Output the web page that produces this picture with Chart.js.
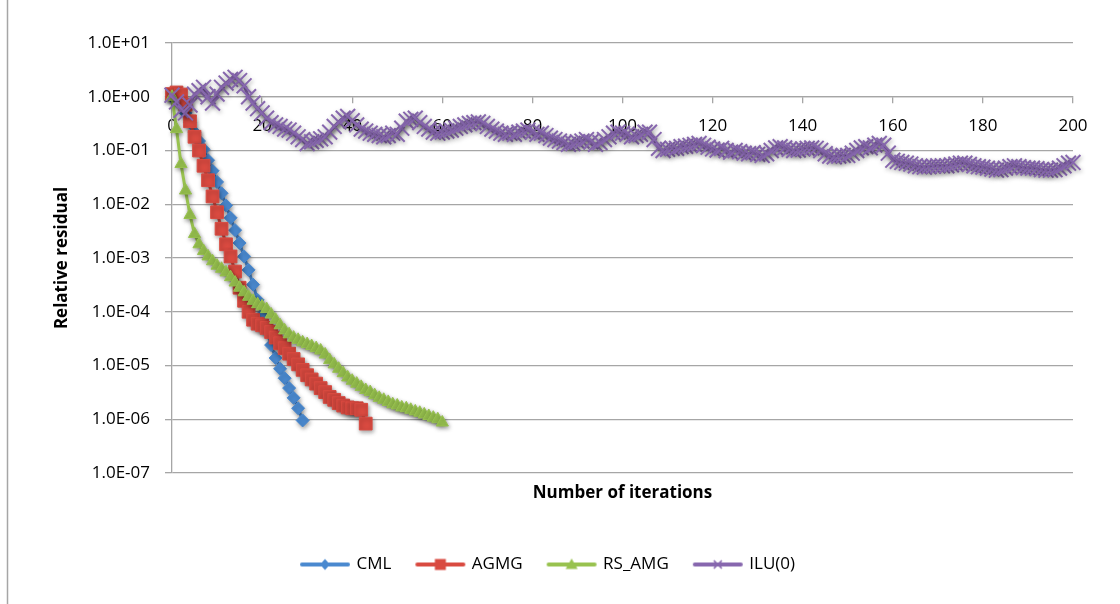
<!DOCTYPE html>
<html>
<head>
<meta charset="utf-8">
<title>Relative residual</title>
<script src="https://cdn.jsdelivr.net/npm/chart.js@4.4.1/dist/chart.umd.min.js"></script>
<style>
  html, body { margin: 0; padding: 0; background: #fff; }
  #wrap { width: 1120px; height: 604px; position: relative; }
</style>
</head>
<body>
<div id="wrap"><canvas id="resChart"></canvas></div>
<script>
// relative residual per iteration, one entry per iteration starting at 0
const CML = [
  1.0, 0.93, 0.76, 0.5, 0.33, 0.22, 0.15, 0.105, 6.6e-2, 4.2e-2,
  2.6e-2, 1.6e-2, 9.5e-3, 5.6e-3, 3.3e-3, 1.9e-3, 1.07e-3, 6.0e-4, 3.2e-4, 1.66e-4,
  8.7e-5, 4.6e-5, 2.4e-5, 1.38e-5, 8.7e-6, 5.8e-6, 3.8e-6, 2.5e-6, 1.6e-6, 9.5e-7
];
const AGMG = [
  1.12, 1.2, 1.1, 0.71, 0.35, 0.18, 0.1, 5.2e-2, 2.8e-2, 1.4e-2,
  7.1e-3, 3.5e-3, 1.8e-3, 1.07e-3, 5.6e-4, 2.8e-4, 1.6e-4, 1.0e-4, 7.1e-5, 6.0e-5,
  5.6e-5, 5.0e-5, 4.2e-5, 3.3e-5, 2.6e-5, 2.1e-5, 1.66e-5, 1.32e-5, 1.05e-5, 8.3e-6,
  6.6e-6, 5.5e-6, 4.6e-6, 3.8e-6, 3.2e-6, 2.6e-6, 2.3e-6, 2.0e-6, 1.8e-6, 1.66e-6,
  1.6e-6, 1.6e-6, 1.5e-6, 8.3e-7
];
const RS_AMG = [
  1.0, 0.25, 5.6e-2, 1.8e-2, 6.3e-3, 2.8e-3, 1.8e-3, 1.35e-3, 1.07e-3, 8.7e-4,
  7.2e-4, 6.3e-4, 5.4e-4, 4.4e-4, 3.5e-4, 2.8e-4, 2.3e-4, 1.9e-4, 1.6e-4, 1.38e-4,
  1.26e-4, 1.12e-4, 8.9e-5, 7.1e-5, 5.6e-5, 4.5e-5, 3.8e-5, 3.3e-5, 3.0e-5, 2.7e-5,
  2.5e-5, 2.3e-5, 2.1e-5, 1.9e-5, 1.6e-5, 1.26e-5, 1.05e-5, 8.7e-6, 7.2e-6, 6.0e-6,
  5.2e-6, 4.6e-6, 4.0e-6, 3.5e-6, 3.2e-6, 2.8e-6, 2.5e-6, 2.3e-6, 2.1e-6, 1.9e-6,
  1.8e-6, 1.66e-6, 1.6e-6, 1.5e-6, 1.4e-6, 1.32e-6, 1.23e-6, 1.15e-6, 1.07e-6, 1.0e-6,
  8.7e-7
];
const ILU0 = [
  1.07, 0.8, 0.56, 0.5, 0.7, 1.12, 1.3, 1.5, 1.0, 0.76,
  1.12, 1.5, 1.8, 2.1, 2.3, 2.0, 1.6, 1.0, 0.76, 0.6,
  0.5, 0.4, 0.33, 0.3, 0.28, 0.25, 0.24, 0.21, 0.18, 0.16,
  0.135, 0.145, 0.155, 0.165, 0.18, 0.22, 0.28, 0.34, 0.4, 0.43,
  0.36, 0.3, 0.25, 0.23, 0.21, 0.2, 0.19, 0.18, 0.19, 0.21,
  0.2, 0.26, 0.35, 0.38, 0.4, 0.33, 0.28, 0.25, 0.22, 0.21,
  0.22, 0.23, 0.24, 0.26, 0.28, 0.3, 0.32, 0.33, 0.34, 0.32,
  0.28, 0.25, 0.23, 0.21, 0.2, 0.21, 0.2, 0.22, 0.23, 0.24,
  0.22, 0.2, 0.21, 0.19, 0.17, 0.16, 0.15, 0.14, 0.13, 0.135,
  0.145, 0.15, 0.16, 0.145, 0.13, 0.14, 0.16, 0.18, 0.21, 0.22,
  0.21, 0.2, 0.18, 0.19, 0.2, 0.22, 0.22, 0.16, 0.11, 0.1,
  0.105, 0.11, 0.11, 0.118, 0.12, 0.125, 0.13, 0.135, 0.125, 0.115,
  0.107, 0.102, 0.11, 0.1, 0.093, 0.1, 0.095, 0.089, 0.087, 0.091,
  0.085, 0.081, 0.087, 0.1, 0.112, 0.118, 0.112, 0.105, 0.1, 0.102,
  0.107, 0.11, 0.112, 0.11, 0.1, 0.087, 0.079, 0.076, 0.079, 0.081,
  0.081, 0.089, 0.1, 0.112, 0.118, 0.112, 0.126, 0.135, 0.126, 0.089,
  0.066, 0.063, 0.06, 0.058, 0.056, 0.052, 0.05, 0.049, 0.05, 0.051,
  0.052, 0.052, 0.052, 0.054, 0.056, 0.058, 0.058, 0.055, 0.052, 0.05,
  0.049, 0.047, 0.045, 0.043, 0.044, 0.047, 0.05, 0.052, 0.05, 0.048,
  0.047, 0.047, 0.046, 0.044, 0.043, 0.043, 0.044, 0.047, 0.052, 0.058,
  0.06
];

const SERIES_NAMES = ['CML', 'AGMG', 'RS_AMG', 'ILU(0)'];
const SERIES_COLORS = ['#4a89cf', '#d94a40', '#98c24f', '#8767ae'];

const X_MIN = 0, X_MAX = 200, X_STEP = 20;
const Y_TICKS = [1e1, 1e0, 1e-1, 1e-2, 1e-3, 1e-4, 1e-5, 1e-6, 1e-7];
const Y_TICK_LABELS = ['1.0E+01', '1.0E+00', '1.0E-01', '1.0E-02', '1.0E-03',
                       '1.0E-04', '1.0E-05', '1.0E-06', '1.0E-07'];

const ITERATIONS = ILU0.map((_, i) => i);

const GRID = '#a6a6a6';

Chart.defaults.font.family = '"Open Sans", "DejaVu Sans", sans-serif';
Chart.defaults.font.size = 17;
Chart.defaults.color = '#000';

// legend sample: short line with the marker in the middle
function legendGlyph(color, kind){
  const c = document.createElement('canvas');
  c.width = 52; c.height = 16;
  const g = c.getContext('2d');
  g.strokeStyle = color; g.fillStyle = color;
  g.lineWidth = 4; g.lineCap = 'round';
  g.beginPath(); g.moveTo(3, 8); g.lineTo(49, 8); g.stroke();
  g.beginPath();
  if(kind === 'diamond'){
    g.moveTo(26, 2.5); g.lineTo(31, 8); g.lineTo(26, 13.5); g.lineTo(21, 8); g.closePath(); g.fill();
  } else if(kind === 'square'){
    g.rect(20.5, 2.5, 11, 11); g.fill();
  } else if(kind === 'triangle'){
    g.moveTo(26, 2); g.lineTo(32, 12.5); g.lineTo(20, 12.5); g.closePath(); g.fill();
  } else {
    g.lineWidth = 1.6; g.lineCap = 'butt';
    g.moveTo(22, 4); g.lineTo(30, 12); g.moveTo(30, 4); g.lineTo(22, 12); g.stroke();
  }
  return c;
}
const GLYPHS = [
  legendGlyph(SERIES_COLORS[0], 'diamond'),
  legendGlyph(SERIES_COLORS[1], 'square'),
  legendGlyph(SERIES_COLORS[2], 'triangle'),
  legendGlyph(SERIES_COLORS[3], 'cross')
];

// soft drop shadow under the series, and the left frame edge
const shadowPlugin = {
  id: 'shadow',
  beforeDatasetsDraw(chart){
    const ctx = chart.ctx;
    ctx.save();
    ctx.shadowColor = 'rgba(0,0,0,0.35)';
    ctx.shadowBlur = 4;
    ctx.shadowOffsetX = 1;
    ctx.shadowOffsetY = 2;
  },
  afterDatasetsDraw(chart){ chart.ctx.restore(); }
};
const framePlugin = {
  id: 'frame',
  beforeDraw(chart){
    const ctx = chart.ctx;
    ctx.save();
    ctx.fillStyle = '#fff';
    ctx.fillRect(0, 0, chart.width, chart.height);
    ctx.strokeStyle = GRID;
    ctx.lineWidth = 1.5;
    ctx.beginPath(); ctx.moveTo(7.5, 0); ctx.lineTo(7.5, chart.height); ctx.stroke();
    ctx.restore();
  }
};

function makeSet(idx, data, style, radius, order){
  const color = SERIES_COLORS[idx];
  return {
    label: SERIES_NAMES[idx],
    data: data,
    xAxisID: 'x', yAxisID: 'y',
    borderColor: color,
    backgroundColor: color,
    borderWidth: 3,
    pointStyle: style,
    pointRadius: radius,
    pointBackgroundColor: color,
    pointBorderColor: color,
    pointBorderWidth: style === 'crossRot' ? 2 : 1,
    tension: 0,
    clip: false,
    order: order
  };
}

new Chart(document.getElementById('resChart'), {
  type: 'line',
  data: {
    labels: ITERATIONS,
    datasets: [
      makeSet(0, CML, 'rectRot', 6.5, 4),
      makeSet(1, AGMG, 'rect', 9, 3),
      makeSet(2, RS_AMG, 'triangle', 7, 2),
      makeSet(3, ILU0, 'crossRot', 10.5, 1)
    ]
  },
  options: {
    responsive: true,
    maintainAspectRatio: false,
    animation: false,
    layout: { padding: { left: 24, right: 47, top: 43, bottom: 21 } },
    plugins: {
      tooltip: { enabled: false },
      legend: {
        position: 'bottom',
        labels: {
          usePointStyle: true,
          pointStyleWidth: 46,
          boxHeight: 16,
          padding: 26,
          font: { size: 17 },
          color: '#000',
          sort: (a, b) => a.datasetIndex - b.datasetIndex,
          generateLabels(chart){
            const items = Chart.defaults.plugins.legend.labels.generateLabels(chart);
            items.forEach(it => { it.pointStyle = GLYPHS[it.datasetIndex]; });
            return items;
          }
        }
      }
    },
    scales: {
      x: {
        type: 'linear',
        position: { y: 1 },
        min: X_MIN, max: X_MAX,
        ticks: { stepSize: X_STEP, padding: 13, maxRotation: 0, autoSkip: false, color: '#000' },
        grid: { drawOnChartArea: false, drawTicks: true, tickLength: 6, color: GRID, lineWidth: 1.3 },
        border: { color: GRID, width: 1.3 }
      },
      xTitle: {
        type: 'linear',
        position: 'bottom',
        afterFit(s){ s.height = 57; },
        ticks: { display: false },
        grid: { display: false, drawTicks: false },
        border: { display: false },
        title: {
          display: true, text: 'Number of iterations', color: '#000',
          font: { size: 17, weight: 'bold' }, padding: { top: 4, bottom: 27 }
        }
      },
      y: {
        type: 'logarithmic',
        position: 'left',
        min: 1e-7, max: 1e1,
        afterFit(s){ s.width = 148; },
        afterBuildTicks(s){ s.ticks = Y_TICKS.map(v => ({ value: v })); },
        ticks: {
          autoSkip: false, padding: 15, color: '#000',
          callback: (v) => Y_TICK_LABELS[Y_TICKS.indexOf(v)]
        },
        grid: { color: GRID, lineWidth: 1.3, tickLength: 7, drawTicks: true },
        border: { color: GRID, width: 1.3 },
        title: {
          display: true, text: 'Relative residual', color: '#000',
          font: { size: 17, weight: 'bold' }, padding: { top: 28, bottom: 0 }
        }
      }
    }
  },
  plugins: [framePlugin, shadowPlugin]
});
</script>
</body>
</html>
